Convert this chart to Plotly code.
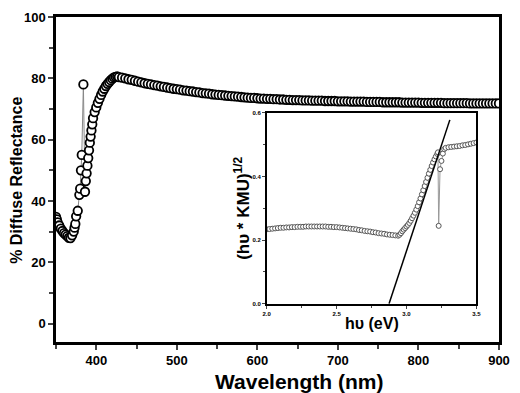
import plotly.graph_objects as go

# main panel: diffuse reflectance vs wavelength
wl = [350, 351, 352, 354, 356, 358, 360, 362, 364, 366, 368, 370, 372, 373, 374, 375,
      377, 379, 380, 381, 382, 384, 386, 387, 388, 389, 390, 391, 392, 393, 394, 395,
      396, 398, 400, 402, 404, 406, 408, 410, 412, 414, 416, 418, 420, 422, 424, 426, 428,
      432, 436, 440, 444, 448, 452, 456, 460, 464, 468, 472, 476, 480, 484, 488, 492, 496,
      500, 504, 508, 512, 516, 520, 524, 528, 532, 536, 540, 544, 548, 552, 556, 560, 564,
      568, 572, 576, 580, 584, 588, 592, 596, 600, 604, 608, 612, 616, 620, 624, 628, 632,
      636, 640, 644, 648, 652, 656, 660, 664, 668, 672, 676, 680, 684, 688, 692, 696, 700,
      704, 708, 712, 716, 720, 724, 728, 732, 736, 740, 744, 748, 752, 756, 760, 764, 768,
      772, 776, 780, 784, 788, 792, 796, 800, 804, 808, 812, 816, 820, 824, 828, 832, 836,
      840, 844, 848, 852, 856, 860, 864, 868, 872, 876, 880, 884, 888, 892, 896, 900]
refl = [34.8, 34.0, 33.0, 32.0, 31.0, 30.2, 29.5, 29.0, 28.5, 28.0, 27.9, 28.8, 30.0, 31.3, 32.5, 35.0,
        36.8, 42.0, 44.0, 50.0, 55.0, 78.0, 43.0, 46.5, 49.0, 51.5, 54.0, 56.5, 59.0, 61.0, 63.0, 65.0,
        67.0, 69.0, 70.5, 72.0, 73.3, 74.6, 75.7, 76.6, 77.5, 78.2, 78.8, 79.4, 79.9, 80.3, 80.5, 80.6, 80.4,
        80.2, 80.0, 79.7, 79.5, 79.2, 78.9, 78.7, 78.4, 78.2, 78.0, 77.8, 77.6, 77.4, 77.2, 77.0, 76.8, 76.6,
        76.5, 76.3, 76.1, 76.0, 75.8, 75.7, 75.5, 75.4, 75.2, 75.1, 75.0, 74.8, 74.7, 74.6, 74.5, 74.4, 74.3,
        74.2, 74.1, 74.0, 73.9, 73.8, 73.7, 73.6, 73.6, 73.5, 73.4, 73.4, 73.3, 73.3, 73.2, 73.2, 73.1, 73.1,
        73.0, 73.0, 72.9, 72.9, 72.9, 72.8, 72.8, 72.8, 72.7, 72.7, 72.7, 72.7, 72.6, 72.6, 72.6, 72.6, 72.5,
        72.5, 72.5, 72.5, 72.4, 72.4, 72.4, 72.4, 72.4, 72.3, 72.3, 72.3, 72.3, 72.3, 72.2, 72.2, 72.2, 72.2,
        72.2, 72.2, 72.1, 72.1, 72.1, 72.1, 72.1, 72.1, 72.0, 72.0, 72.0, 72.0, 72.0, 72.0, 72.0, 71.9, 71.9,
        71.9, 71.9, 71.9, 71.9, 71.9, 71.9, 71.8, 71.8, 71.8, 71.8, 71.8, 71.8, 71.8, 71.8, 71.8, 71.8]

# inset: (h*nu * KMU)^1/2 vs photon energy
ev = [2.00, 2.02, 2.04, 2.06, 2.08, 2.10, 2.12, 2.14, 2.16, 2.18, 2.20, 2.22, 2.24, 2.26, 2.28, 2.30,
      2.32, 2.34, 2.36, 2.38, 2.40, 2.42, 2.44, 2.46, 2.48, 2.50, 2.52, 2.54, 2.56, 2.58, 2.60, 2.62,
      2.64, 2.66, 2.68, 2.70, 2.72, 2.74, 2.76, 2.78, 2.80, 2.82, 2.84, 2.86, 2.88, 2.90, 2.92, 2.94,
      2.95, 2.96, 2.97, 2.98, 2.99, 3.00, 3.01, 3.02, 3.03, 3.04, 3.05, 3.06, 3.07, 3.08, 3.09, 3.10,
      3.11, 3.12, 3.13, 3.14, 3.15, 3.16, 3.17, 3.18, 3.19, 3.20, 3.21, 3.22, 3.225, 3.23, 3.24, 3.25,
      3.26, 3.27, 3.28, 3.30, 3.32, 3.34, 3.36, 3.38, 3.40, 3.42, 3.44, 3.46, 3.48, 3.50]
kmu = [0.234, 0.235, 0.236, 0.237, 0.238, 0.239, 0.239, 0.240, 0.240, 0.241, 0.241, 0.242, 0.242, 0.242, 0.243, 0.243,
       0.243, 0.243, 0.243, 0.243, 0.243, 0.243, 0.242, 0.242, 0.241, 0.241, 0.240, 0.239, 0.238, 0.237, 0.236, 0.235,
       0.234, 0.232, 0.231, 0.229, 0.228, 0.227, 0.225, 0.224, 0.222, 0.221, 0.220, 0.218, 0.217, 0.216, 0.215, 0.214,
       0.217, 0.222, 0.228, 0.233, 0.238, 0.243, 0.248, 0.254, 0.261, 0.269, 0.277, 0.286, 0.296, 0.307, 0.319, 0.331,
       0.344, 0.357, 0.370, 0.383, 0.396, 0.409, 0.421, 0.433, 0.444, 0.454, 0.463, 0.471, 0.476, 0.245, 0.423, 0.449,
       0.472, 0.486, 0.490, 0.492, 0.493, 0.494, 0.495, 0.496, 0.498, 0.499, 0.501, 0.503, 0.505, 0.507]

# linear fit for band gap
fit_ev = [2.875, 3.31]
fit_y = [0.0, 0.578]

FONT = "Liberation Sans, Arial, sans-serif"

fig = go.Figure()
fig.add_trace(go.Scatter(
    x=wl, y=refl, mode="lines+markers",
    line=dict(color="#888888", width=1),
    marker=dict(symbol="circle", size=8.5, color="white", line=dict(color="black", width=1.8)),
    showlegend=False))
fig.add_trace(go.Scatter(
    x=ev, y=kmu, mode="lines+markers", xaxis="x2", yaxis="y2",
    line=dict(color="#999999", width=1),
    marker=dict(symbol="circle", size=5, color="white", line=dict(color="#555555", width=1)),
    showlegend=False))
fig.add_trace(go.Scatter(
    x=fit_ev, y=fit_y, mode="lines", xaxis="x2", yaxis="y2",
    line=dict(color="black", width=1.5), showlegend=False))

tick_main = dict(family=FONT, size=13, color="black", weight="bold")
tick_inset = dict(family=FONT, size=6, color="black", weight="bold")

fig.update_layout(
    width=520, height=393,
    margin=dict(l=56, r=14, t=10, b=51),
    paper_bgcolor="white", plot_bgcolor="white",
    xaxis=dict(domain=[0, 1], range=[350, 900], showline=True, linewidth=2.5, linecolor="black",
               mirror=True, showgrid=False, zeroline=False, ticks="outside", ticklen=5, tickwidth=2,
               tickvals=[400, 500, 600, 700, 800, 900], tickfont=tick_main,
               minor=dict(ticks="outside", tickvals=[350, 450, 550, 650, 750, 850], ticklen=4, tickwidth=2)),
    yaxis=dict(domain=[0, 1], range=[-6, 100], showline=True, linewidth=2.5, linecolor="black",
               mirror=True, showgrid=False, zeroline=False, ticks="outside", ticklen=5, tickwidth=2,
               tickvals=[0, 20, 40, 60, 80, 100], tickfont=tick_main,
               minor=dict(ticks="outside", tickvals=[10, 30, 50, 70, 90], ticklen=4, tickwidth=2)),
    xaxis2=dict(domain=[0.4756, 0.949], anchor="y2", range=[2.0, 3.5], showline=True, linewidth=1.5,
                linecolor="black", mirror=True, showgrid=False, zeroline=False, ticks="outside",
                ticklen=3, tickwidth=1, tickvals=[2.0, 2.5, 3.0, 3.5], ticktext=["2.0", "2.5", "3.0", "3.5"],
                tickfont=tick_inset,
                minor=dict(ticks="outside", tickvals=[2.25, 2.75, 3.25], ticklen=2, tickwidth=1)),
    yaxis2=dict(domain=[0.1175, 0.705], anchor="x2", range=[0, 0.6], showline=True, linewidth=1.5,
                linecolor="black", mirror=True, showgrid=False, zeroline=False, ticks="outside",
                ticklen=3, tickwidth=1, tickvals=[0.0, 0.2, 0.4, 0.6], ticktext=["0.0", "0.2", "0.4", "0.6"],
                tickfont=tick_inset,
                minor=dict(ticks="outside", tickvals=[0.1, 0.3, 0.5], ticklen=2, tickwidth=1)),
)

# axis titles as annotations so they sit where the original ones do
title_font = dict(family=FONT, color="black", weight="bold")
common = dict(xref="paper", yref="paper", xanchor="center", yanchor="middle", showarrow=False)
fig.add_annotation(text="Wavelength (nm)", x=0.549, y=-0.1205,
                   font=dict(size=21, **title_font), **common)
fig.add_annotation(text="% Diffuse Reflectance", x=-0.091, y=0.498, textangle=-90,
                   font=dict(size=16, **title_font), **common)
fig.add_annotation(text="h\u03c5 (eV)", x=0.713, y=0.057,
                   font=dict(size=16, **title_font), **common)
fig.add_annotation(text="(h\u03c5 * KMU)<sup>1/2</sup>", x=0.42, y=0.41, textangle=-90,
                   font=dict(size=17, **title_font), **common)

# page body has a default 8px margin; drop it so the figure sits at the window origin
fig.write_html("out.html", config={"displayModeBar": False},
               post_script="document.body.style.margin='0px';")
